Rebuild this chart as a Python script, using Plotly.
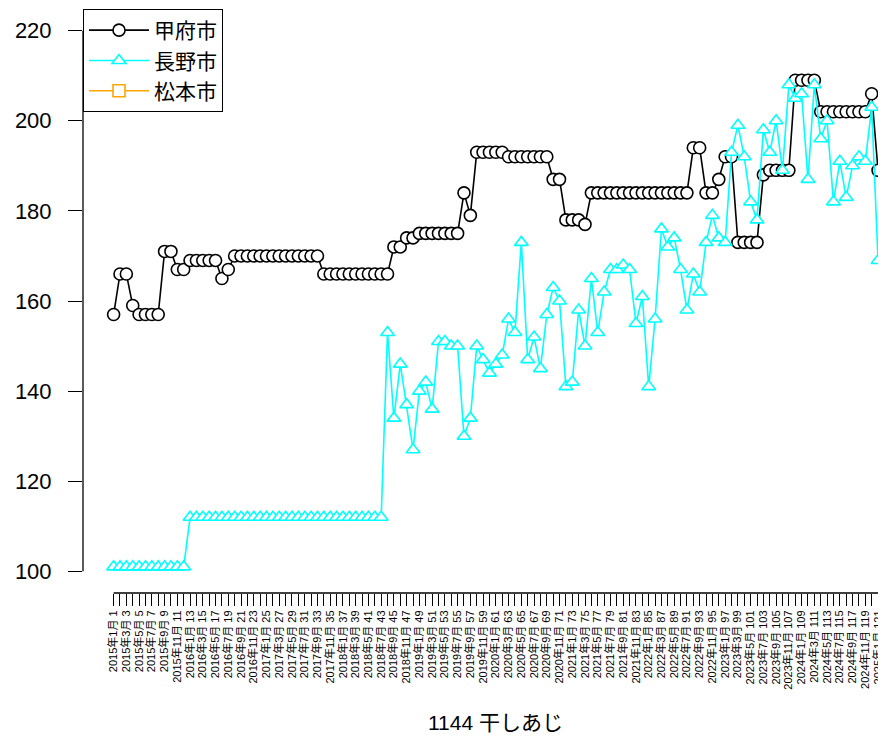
import plotly.graph_objects as go

# ---- data ----
index = list(range(1, 122))
years = [2015 + (i - 1) // 12 for i in index]
months = [(i - 1) % 12 + 1 for i in index]
tick_labels = [f"{y}年{m}月 {i}" if i % 2 == 1 else "" for i, y, m in zip(index, years, months)]

kofu = [157, 166, 166, 159, 157, 157, 157, 157, 171, 171,
        167, 167, 169, 169, 169, 169, 169, 165, 167, 170,
        170, 170, 170, 170, 170, 170, 170, 170, 170, 170,
        170, 170, 170, 166, 166, 166, 166, 166, 166, 166,
        166, 166, 166, 166, 172, 172, 174, 174, 175, 175,
        175, 175, 175, 175, 175, 184, 179, 193, 193, 193,
        193, 193, 192, 192, 192, 192, 192, 192, 192, 187,
        187, 178, 178, 178, 177, 184, 184, 184, 184, 184,
        184, 184, 184, 184, 184, 184, 184, 184, 184, 184,
        184, 194, 194, 184, 184, 187, 192, 192, 173, 173,
        173, 173, 188, 189, 189, 189, 189, 209, 209, 209,
        209, 202, 202, 202, 202, 202, 202, 202, 202, 206,
        189]

nagano = [101, 101, 101, 101, 101, 101, 101, 101, 101, 101,
          101, 101, 112, 112, 112, 112, 112, 112, 112, 112,
          112, 112, 112, 112, 112, 112, 112, 112, 112, 112,
          112, 112, 112, 112, 112, 112, 112, 112, 112, 112,
          112, 112, 112, 153, 134, 146, 137, 127, 140, 142,
          136, 151, 151, 150, 150, 130, 134, 150, 147, 144,
          146, 148, 156, 153, 173, 147, 152, 145, 157, 163,
          160, 141, 142, 158, 150, 165, 153, 162, 167, 167,
          168, 167, 155, 161, 141, 156, 176, 172, 174, 167,
          158, 166, 162, 173, 179, 174, 173, 193, 199, 192,
          182, 178, 198, 193, 200, 189, 208, 205, 206, 187,
          208, 196, 200, 182, 191, 183, 190, 192, 191, 203,
          169]

matsumoto = [None] * 121

y_ticks = [100, 120, 140, 160, 180, 200, 220]
series_names = ["甲府市", "長野市", "松本市"]
x_title = "1144 干しあじ"

FONT = "Liberation Sans, Arial, Noto Sans CJK JP, sans-serif"

fig = go.Figure()
styles = [
    (kofu, "black", "circle"),
    (nagano, "#00FFFF", "triangle-up"),
    (matsumoto, "#FFA500", "square"),
]
for (vals, col, sym), name in zip(styles, series_names):
    fig.add_trace(go.Scatter(
        x=index, y=vals, name=name, mode="lines+markers",
        line=dict(color=col, width=1.6),
        marker=dict(symbol=sym, size=12, color="white",
                    line=dict(color=col, width=1.6)),
        cliponaxis=False,
    ))

# axis lines spanning only the tick range (R style)
fig.add_shape(type="line", xref="paper", yref="y", x0=0, x1=0,
              y0=y_ticks[0], y1=y_ticks[-1], line=dict(color="black", width=1.3))
fig.add_shape(type="line", xref="x", yref="paper", x0=index[0], x1=index[-1],
              y0=0, y1=0, line=dict(color="black", width=1.3))

fig.add_annotation(text=x_title, xref="x", yref="paper",
                   x=(index[0] + index[-1]) / 2, y=-0.2219,
                   showarrow=False, font=dict(size=21, color="black", family=FONT),
                   xanchor="center", yanchor="middle")

# the page body adds an 8px offset; margins compensate for it
fig.update_layout(
    width=886, height=742,
    margin=dict(l=75.4, r=8, t=1.4, b=157.4, pad=0, autoexpand=False),
    paper_bgcolor="white", plot_bgcolor="white",
    font=dict(family=FONT, color="black"),
    showlegend=True,
    legend=dict(x=0, y=1, xanchor="left", yanchor="top",
                bordercolor="black", borderwidth=1, bgcolor="white",
                font=dict(size=21, family=FONT), itemwidth=60),
    xaxis=dict(range=[-3.806, 122.25], showgrid=False, zeroline=False,
               showline=False, tickmode="array", tickvals=index,
               ticktext=tick_labels, tickangle=-90, ticks="outside",
               ticklen=12, tickwidth=1.2, tickcolor="black", automargin=False,
               tickfont=dict(size=11, family=FONT)),
    yaxis=dict(range=[95.2, 224.8], showgrid=False, zeroline=False,
               showline=False, tickmode="array", tickvals=y_ticks,
               ticks="outside", ticklen=14, tickwidth=1.3, tickcolor="black",
               automargin=False, ticklabelstandoff=12,
               tickfont=dict(size=22, family=FONT)),
)

fig.write_html("out.html")
